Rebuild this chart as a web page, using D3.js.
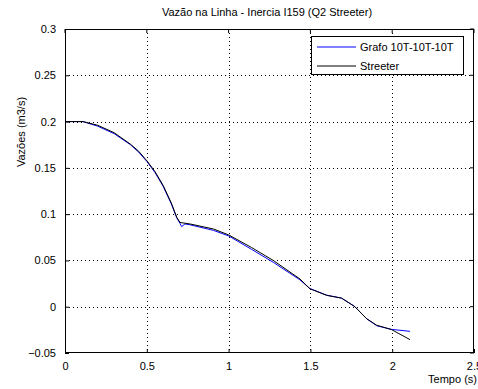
<!DOCTYPE html>
<meta charset="utf-8">
<html>
<head>
    <title>Vazão na Linha</title>
    <style>
        body { margin: 0; background: #fff; }
        text { font-family: "Liberation Sans", Arial, sans-serif; font-size: 11px; fill: #000; }
    </style>
</head>
<body>
    <div id="container"></div>
    <script src="https://d3js.org/d3.v7.min.js"></script>
    <script>
        // data
        const tStreeter = [0, 0.11, 0.2, 0.3, 0.4, 0.45, 0.5, 0.55, 0.6, 0.65, 0.683, 0.703, 0.764, 0.907, 1.0, 1.14, 1.273, 1.436, 1.497, 1.6, 1.69, 1.77, 1.844, 1.905, 1.997, 2.109];
        const qStreeter = [0.2, 0.2, 0.196, 0.188, 0.1756, 0.168, 0.1577, 0.146, 0.131, 0.112, 0.0966, 0.091, 0.0894, 0.084, 0.0776, 0.064, 0.05, 0.030, 0.0194, 0.0122, 0.0093, 0.0003, -0.013, -0.020, -0.0248, -0.0356];

        const tGrafo = [0, 0.11, 0.2, 0.3, 0.4, 0.45, 0.5, 0.55, 0.6, 0.65, 0.683, 0.703, 0.713, 0.733, 0.764, 0.907, 1.0, 1.14, 1.273, 1.436, 1.497, 1.6, 1.69, 1.77, 1.844, 1.905, 1.997, 2.109];
        const qGrafo = [0.2, 0.2, 0.195, 0.187, 0.175, 0.167, 0.157, 0.145, 0.130, 0.111, 0.096, 0.09, 0.0865, 0.0894, 0.0885, 0.0825, 0.0765, 0.062, 0.048, 0.029, 0.0196, 0.0125, 0.0093, 0.0003, -0.013, -0.0205, -0.0245, -0.0266];

        const xTicks = [0, 0.5, 1, 1.5, 2, 2.5];
        const yTicks = [-0.05, 0, 0.05, 0.1, 0.15, 0.2, 0.25, 0.3];
        const seriesNames = ["Grafo 10T-10T-10T", "Streeter"];
        const seriesColors = ["#0000ff", "#000000"];

        const width = 478, height = 389;
        const margin = { left: 65, right: 4, top: 29, bottom: 36 };

        const x = d3.scaleLinear().domain([0, 2.5]).range([margin.left, width - margin.right]);
        const y = d3.scaleLinear().domain([-0.05, 0.3]).range([height - margin.bottom, margin.top]);

        const svg = d3.select("#container").append("svg")
            .attr("width", width)
            .attr("height", height);

        svg.append("rect").attr("width", width).attr("height", height).attr("fill", "#fff");

        // grid
        const grid = svg.append("g")
            .attr("stroke", "#000")
            .attr("stroke-width", 1)
            .attr("stroke-dasharray", "1,3")
            .attr("shape-rendering", "crispEdges");
        grid.selectAll(".gx").data(xTicks.slice(1, -1)).join("line")
            .attr("class", "gx")
            .attr("x1", d => Math.round(x(d)) + 0.5).attr("x2", d => Math.round(x(d)) + 0.5)
            .attr("y1", y(0.3)).attr("y2", y(-0.05));
        grid.selectAll(".gy").data(yTicks.slice(1, -1)).join("line")
            .attr("class", "gy")
            .attr("y1", d => Math.round(y(d)) + 0.5).attr("y2", d => Math.round(y(d)) + 0.5)
            .attr("x1", x(0)).attr("x2", x(2.5));

        // axes
        const xAxis = svg.append("g")
            .attr("transform", `translate(0,${y(-0.05)})`)
            .call(d3.axisBottom(x).tickValues(xTicks).tickFormat(d3.format("")).tickSizeInner(-4).tickSizeOuter(0).tickPadding(9));
        const yAxis = svg.append("g")
            .attr("transform", `translate(${x(0)},0)`)
            .call(d3.axisLeft(y).tickValues(yTicks).tickFormat(d3.format("")).tickSizeInner(-4).tickSizeOuter(0).tickPadding(9));
        [xAxis, yAxis].forEach(a => {
            a.select(".domain").remove();
            a.selectAll("line").attr("stroke", "#000");
            a.selectAll("text").style("font-size", "11px").attr("fill", "#000");
        });
        // top/right ticks
        svg.append("g").selectAll("line").data(xTicks).join("line")
            .attr("x1", d => x(d)).attr("x2", d => x(d))
            .attr("y1", y(0.3)).attr("y2", y(0.3) + 4).attr("stroke", "#000");
        svg.append("g").selectAll("line").data(yTicks).join("line")
            .attr("y1", d => y(d)).attr("y2", d => y(d))
            .attr("x1", x(2.5)).attr("x2", x(2.5) - 4).attr("stroke", "#000");

        // box
        svg.append("rect")
            .attr("x", x(0) + 0.5).attr("y", y(0.3) + 0.5)
            .attr("width", x(2.5) - x(0) - 1).attr("height", y(-0.05) - y(0.3) - 1)
            .attr("fill", "none").attr("stroke", "#000");

        // lines
        const line = d3.line().x(d => x(d[0])).y(d => y(d[1]));
        const grafo = tGrafo.map((t, i) => [t, qGrafo[i]]);
        const streeter = tStreeter.map((t, i) => [t, qStreeter[i]]);
        svg.append("path").datum(grafo).attr("d", line)
            .attr("fill", "none").attr("stroke", seriesColors[0]).attr("stroke-width", 1);
        svg.append("path").datum(streeter).attr("d", line)
            .attr("fill", "none").attr("stroke", seriesColors[1]).attr("stroke-width", 1);

        // title and labels
        svg.append("text").attr("x", 267).attr("y", 16).attr("text-anchor", "middle")
            .text("Vazão na Linha - Inercia I159 (Q2 Streeter)");
        svg.append("text").attr("x", width - 1).attr("y", 383).attr("text-anchor", "end")
            .text("Tempo (s)");
        svg.append("text").attr("transform", "translate(25,132) rotate(-90)").attr("text-anchor", "middle")
            .text("Vazões (m3/s)");

        // legend
        const lg = svg.append("g");
        lg.append("rect").attr("x", 311.5).attr("y", 36.5).attr("width", 152).attr("height", 38)
            .attr("fill", "#fff").attr("stroke", "#000");
        seriesNames.forEach((name, i) => {
            const ly = 47 + i * 19;
            lg.append("line").attr("x1", 317).attr("x2", 356).attr("y1", ly).attr("y2", ly)
                .attr("stroke", seriesColors[i]);
            lg.append("text").attr("x", 360).attr("y", ly + 4).text(name);
        });
    </script>
</body>
</html>
